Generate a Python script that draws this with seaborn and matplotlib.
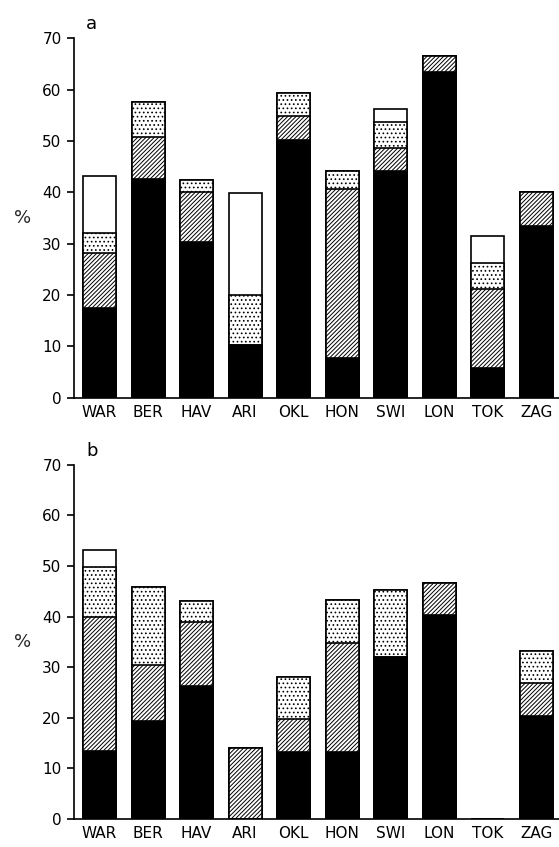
import numpy as np
import matplotlib
matplotlib.use("Agg")
import matplotlib.pyplot as plt
import seaborn as sns

# ── Data ───────────────────────────────────────────────────────────────────────
SITES = ["WAR", "BER", "HAV", "ARI", "OKL", "HON", "SWI", "LON", "TOK", "ZAG"]

# panel a: segment heights (%), bottom to top
a_black = [17.4, 42.6, 30.3, 10.3, 50.2, 7.8, 44.1, 63.5, 5.8, 33.5]
a_hatch = [10.7, 8.1, 9.7, 0.0, 4.6, 32.9, 4.6, 3.0, 15.3, 6.5]
a_dots = [4.0, 6.9, 2.4, 9.7, 4.5, 3.5, 5.0, 0.0, 5.1, 0.0]
a_white = [11.1, 0.0, 0.0, 19.8, 0.0, 0.0, 2.6, 0.0, 5.2, 0.0]

# panel b
b_black = [13.4, 19.4, 26.3, 0.0, 13.3, 13.3, 32.0, 40.3, 0.0, 20.4]
b_hatch = [26.5, 11.1, 12.7, 14.1, 6.5, 21.4, 0.0, 6.3, 0.0, 6.4]
b_dots = [10.0, 15.3, 4.1, 0.0, 8.3, 8.5, 13.3, 0.0, 0.0, 6.4]
b_white = [3.2, 0.0, 0.0, 0.0, 0.0, 0.0, 0.0, 0.0, 0.0, 0.0]

Y_TICKS = [0, 10, 20, 30, 40, 50, 60, 70]

# ── Style ──────────────────────────────────────────────────────────────────────
sns.set_style("ticks")
plt.rcParams.update({
    "font.family": ["DejaVu Sans"],
    "hatch.linewidth": 0.7,
    "hatch.color": "black",
    "axes.linewidth": 1.2,
    "axes.edgecolor": "black",
    "xtick.color": "black",
    "ytick.color": "black",
    "text.color": "black",
})

fig = plt.figure(figsize=(5.59, 8.47), dpi=100)
ax_a = fig.add_axes([0.1324, 0.5305, 0.8676, 0.4243])
ax_b = fig.add_axes([0.1324, 0.0331, 0.8676, 0.4180])


def stacked_panel(ax, black, hatch, dots, white, letter):
    segs = np.array([black, hatch, dots, white])
    cum = np.cumsum(segs, axis=0)
    # draw tallest (cumulative) layer first, lower layers over it
    styles = [
        (cum[3], "white", ""),
        (cum[2], "white", "...."),
        (cum[1], "white", "////////"),
        (cum[0], "black", ""),
    ]
    for heights, face, hatch_pat in styles:
        sns.barplot(x=SITES, y=heights, color=face, saturation=1,
                    edgecolor="black", linewidth=1.2, hatch=hatch_pat,
                    width=0.68, ax=ax)

    ax.set_xlim(-0.526, 9.47)
    ax.set_ylim(0, 70)
    ax.set_yticks(Y_TICKS)
    sns.despine(ax=ax)
    ax.tick_params(axis="y", direction="out", length=5, width=1.2,
                   labelsize=11, pad=4)
    ax.tick_params(axis="x", length=0, labelsize=11, pad=5)
    ax.set_ylabel("%", rotation=0, fontsize=13, labelpad=14, va="center")
    ax.set_xlabel("")
    ax.text(0.025, 1.04, letter, transform=ax.transAxes, fontsize=13,
            ha="left", va="center")


stacked_panel(ax_a, a_black, a_hatch, a_dots, a_white, "a")
stacked_panel(ax_b, b_black, b_hatch, b_dots, b_white, "b")

fig.savefig("out.png", dpi=100)
plt.close(fig)
